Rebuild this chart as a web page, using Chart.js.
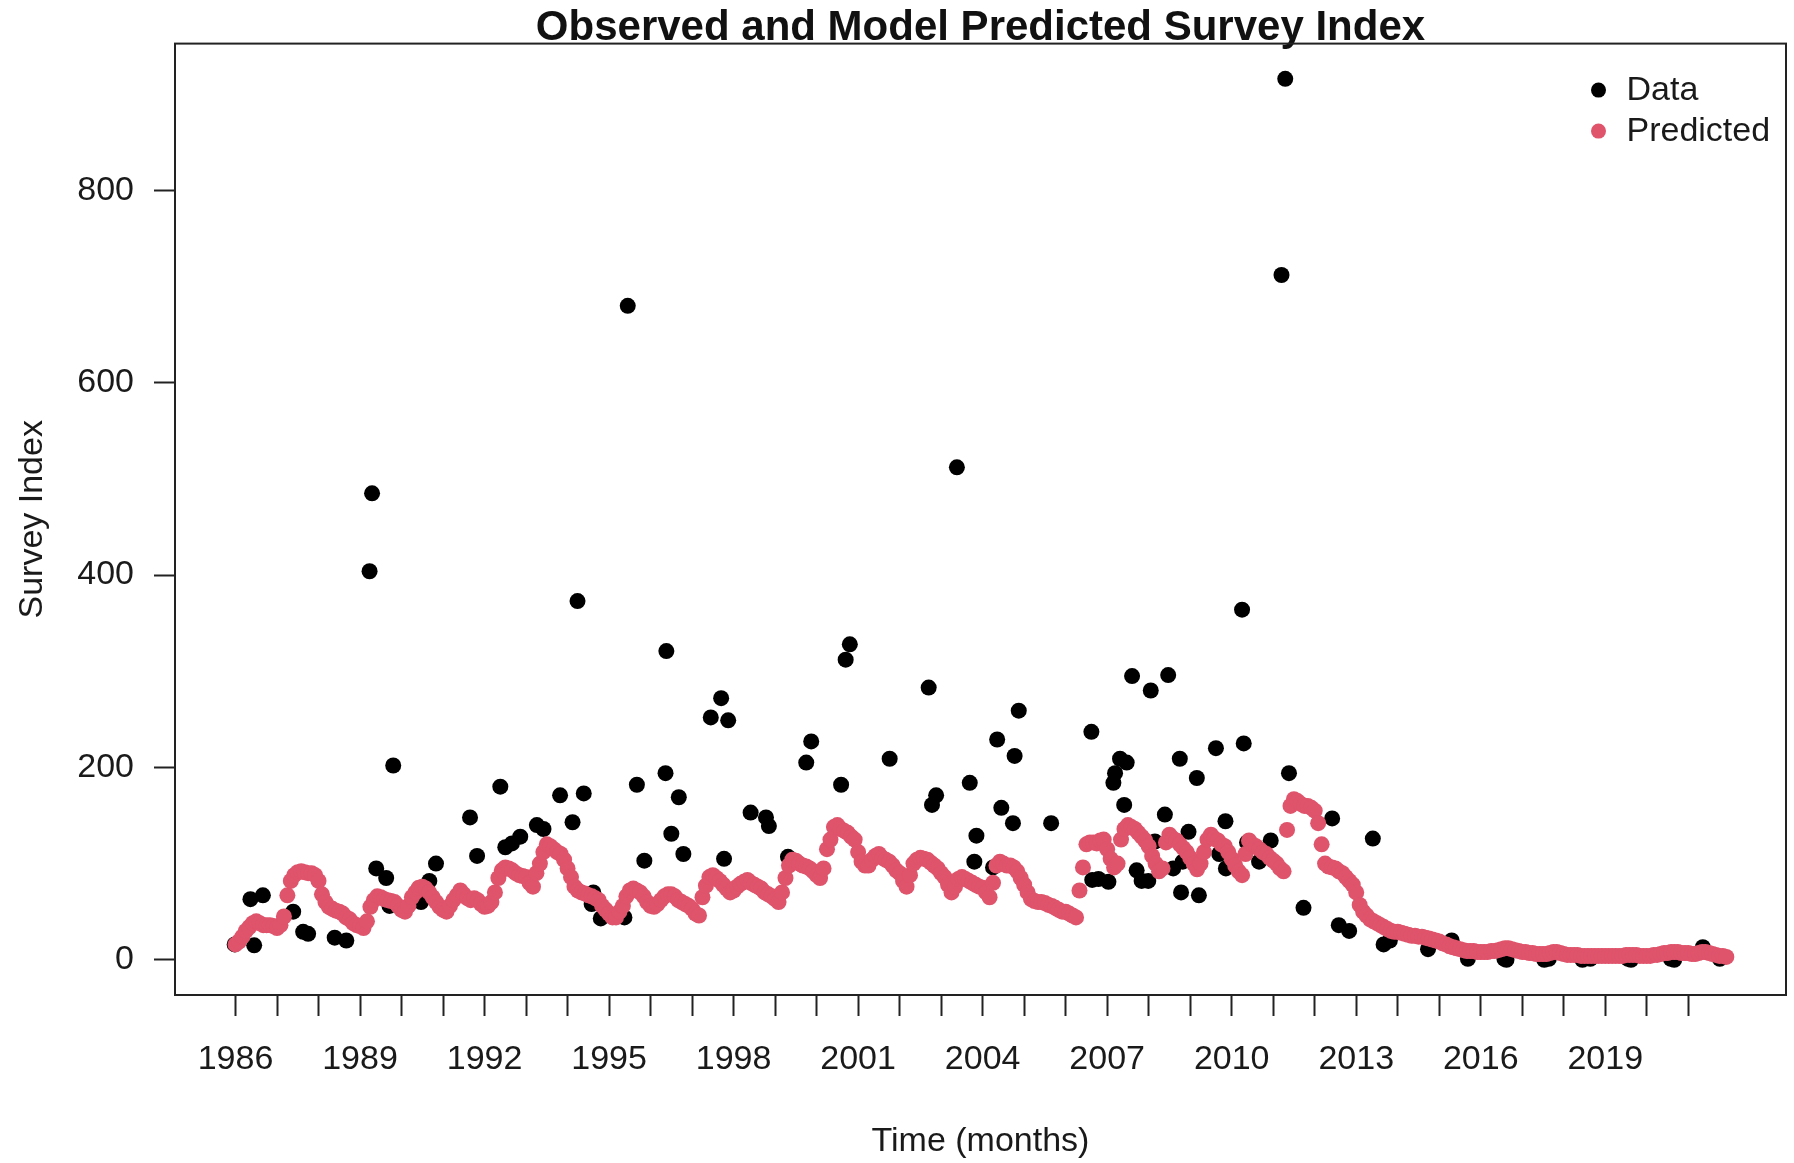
<!DOCTYPE html>
<html>
<head>
<meta charset="utf-8">
<script src="https://cdn.jsdelivr.net/npm/chart.js@4.4.1/dist/chart.umd.min.js"></script>
<style>
html,body{margin:0;padding:0;background:#ffffff;}
canvas{display:block;}
</style>
</head>
<body>
<canvas id="c" width="1794" height="1163"></canvas>
<script>
// ---------------- data ----------------
const titleText = "Observed and Model Predicted Survey Index";
const xAxisLabel = "Time (months)";
const yAxisLabel = "Survey Index";
const seriesNames = ["Data", "Predicted"];

// model prediction: one value per month, starting January 1986
const predictedStartYear = 1986;
const predictedValues = [
  16,19,24,30,34,38,40,38,36,36,36,35,        // 1986
  33,36,45,67,82,88,91,92,91,90,90,88,        // 1987
  82,68,60,55,53,51,50,48,44,42,38,36,        // 1988
  35,33,40,55,62,66,65,63,62,61,60,56,        // 1989
  52,50,56,65,70,75,76,74,70,65,60,55,        // 1990
  52,50,56,62,67,72,68,64,62,64,62,58,        // 1991
  55,56,60,70,85,93,96,95,93,90,88,87,        // 1992
  86,80,76,90,100,112,120,118,115,112,110,104,// 1993
  95,86,76,72,70,69,67,66,64,62,56,52,        // 1994
  48,44,44,50,56,66,72,74,72,70,66,60,        // 1995
  56,55,58,62,66,68,68,66,62,60,58,56,        // 1996
  53,48,46,65,77,86,88,85,82,78,74,70,        // 1997
  72,76,79,81,83,80,78,76,74,70,68,66,        // 1998
  63,60,70,85,98,104,103,100,98,97,95,92,     // 1999
  88,85,95,115,125,138,140,136,134,132,128,125, // 2000
  112,102,98,98,104,108,110,106,104,102,98,93,  // 2001
  90,82,76,88,100,104,106,105,104,101,98,95,    // 2002
  90,86,78,70,76,84,86,84,82,80,78,76,          // 2003
  75,70,65,80,98,102,100,98,98,96,92,85,        // 2004
  78,70,63,61,60,60,59,57,56,54,52,50,          // 2005
  50,48,46,44,72,96,120,122,122,121,124,125,    // 2006
  115,105,96,100,125,136,140,138,136,132,128,124, // 2007
  118,108,100,92,95,122,130,126,124,120,116,112,  // 2008
  106,100,94,100,112,125,130,126,124,120,118,112, // 2009
  105,98,92,88,110,124,120,118,115,112,110,106,   // 2010
  103,100,95,92,135,160,167,165,162,160,160,158,  // 2011
  155,142,120,100,97,96,95,92,90,86,82,78,        // 2012
  70,57,50,46,42,40,38,36,34,32,30,29,            // 2013
  29,28,27,26,25,25,24,24,23,22,21,20,            // 2014
  19,17,16,14,13,12,11,10,9,9,9,8,                // 2015
  8,8,8,9,9,10,11,12,12,11,10,9,                  // 2016
  8,8,7,7,6,6,6,6,7,8,8,7,                        // 2017
  6,5,5,5,5,4,4,4,4,4,4,4,                        // 2018
  4,4,4,4,4,4,5,5,5,5,4,4,                        // 2019
  4,4,5,5,6,7,7,8,8,8,7,7,                        // 2020
  7,6,6,7,8,8,7,6,5,4,4,3                         // 2021
];

// observed survey index (time in decimal years)
const dataTimes = [
  1985.98,1986.36,1986.45,1986.66,1987.39,1987.63,1987.75,1988.39,1988.67,
  1989.23,1989.29,1989.39,1989.63,1989.71,1989.80,1990.47,1990.67,1990.83,
  1991.65,1991.82,1992.38,1992.50,1992.66,1992.86,1993.26,1993.42,1993.82,
  1994.12,1994.24,1994.39,1994.58,1994.62,1994.80,1995.37,1995.45,1995.67,
  1995.85,1996.36,1996.38,1996.50,1996.68,1996.79,1997.45,1997.70,1997.77,
  1997.87,1998.41,1998.78,1998.85,1999.31,1999.75,1999.87,2000.59,2000.70,
  2000.80,2001.76,2002.70,2002.78,2002.88,2003.38,2003.69,2003.80,2003.85,
  2004.25,2004.35,2004.45,2004.73,2004.77,2004.87,2005.65,2006.62,2006.64,
  2006.79,2007.03,2007.15,2007.19,2007.31,2007.41,2007.47,2007.60,2007.71,
  2007.83,2007.99,2008.05,2008.15,2008.39,2008.47,2008.59,2008.75,2008.78,
  2008.82,2008.96,2009.16,2009.21,2009.62,2009.70,2009.85,2009.86,2010.25,
  2010.29,2010.37,2010.66,2010.94,2011.20,2011.29,2011.38,2011.73,2012.42,
  2012.58,2012.83,2013.40,2013.66,2013.81,2014.73,2015.30,2015.69,2016.57,
  2016.62,2017.53,2017.64,2018.45,2018.64,2019.55,2019.62,2020.58,2020.66,
  2021.35,2021.76
];
const dataValues = [
  16,63,15,67,50,29,27,23,20,
  404,485,95,85,56,202,60,82,100,
  148,108,180,117,121,128,140,136,171,
  143,373,173,58,70,43,44,680,182,
  103,194,321,131,169,110,252,272,105,
  249,153,148,139,107,205,227,182,312,
  328,209,283,161,171,512,184,102,129,
  96,229,158,142,212,259,142,237,83,
  84,81,184,194,209,161,205,295,93,
  82,82,280,123,151,296,95,209,70,
  102,133,189,67,220,110,144,95,364,
  225,122,102,124,712,916,194,54,147,
  36,30,126,16,20,11,20,1,1,
  0,0,1,0,1,1,0,1,0,
  13,1
];

const xTickYears = [1986,1987,1988,1989,1990,1991,1992,1993,1994,1995,1996,1997,
  1998,1999,2000,2001,2002,2003,2004,2005,2006,2007,2008,2009,2010,2011,2012,2013,
  2014,2015,2016,2017,2018,2019,2020,2021];
const xLabelYears = [1986,1989,1992,1995,1998,2001,2004,2007,2010,2013,2016,2019];
const yTickValues = [0,200,400,600,800];

// ---------------- build ----------------
const predictedPoints = predictedValues.map((v, i) => ({ x: predictedStartYear + i / 12, y: v }));
const dataPoints = dataTimes.map((t, i) => ({ x: t, y: dataValues[i] }));

const allX = predictedPoints.map(p => p.x).concat(dataTimes);
const allY = predictedValues.concat(dataValues);
const xLo = Math.min(...allX), xHi = Math.max(...allX);
const yLo = Math.min(...allY), yHi = Math.max(...allY);
const xPad = (xHi - xLo) * 0.04, yPad = (yHi - yLo) * 0.04;

const FONT = '"Liberation Sans", Arial, Helvetica, sans-serif';
const TEXT = '#1a1a1a';
const PINK = '#DF536B';
Chart.defaults.font.family = FONT;
Chart.defaults.color = TEXT;

const frameAndLegend = {
  id: 'frameAndLegend',
  afterDraw(chart) {
    const { ctx, chartArea: a } = chart;
    ctx.save();
    ctx.strokeStyle = '#222';
    ctx.lineWidth = 2;
    ctx.strokeRect(a.left, a.top, a.right - a.left, a.bottom - a.top);
    ctx.font = '34px ' + FONT;
    ctx.textBaseline = 'middle';
    ctx.textAlign = 'left';
    const colors = ['#000000', PINK];
    seriesNames.forEach((name, i) => {
      const y = a.top + 46.5 + i * 41;
      ctx.beginPath();
      ctx.arc(a.right - 187.5, y, 7.5, 0, Math.PI * 2);
      ctx.fillStyle = colors[i];
      ctx.fill();
      ctx.fillStyle = TEXT;
      ctx.fillText(name, a.right - 159.5, y + 1);
    });
    ctx.restore();
  }
};

new Chart(document.getElementById('c'), {
  type: 'scatter',
  data: {
    datasets: [
      { label: seriesNames[0], data: dataPoints, order: 1,
        pointRadius: 8, pointBackgroundColor: '#000000', pointBorderWidth: 0, showLine: false },
      { label: seriesNames[1], data: predictedPoints, order: 0,
        pointRadius: 8, pointBackgroundColor: PINK, pointBorderWidth: 0, showLine: false }
    ]
  },
  options: {
    responsive: false,
    animation: false,
    devicePixelRatio: 1,
    events: [],
    layout: { padding: { left: 0, right: 4, top: 0, bottom: 0 } },
    plugins: {
      legend: { display: false },
      tooltip: { enabled: false },
      title: {
        display: true, text: titleText, fullSize: false, color: '#111',
        font: { size: 42, weight: 'bold', lineHeight: 0.7 },
        padding: { top: 14.2, bottom: 0 }
      }
    },
    scales: {
      x: {
        type: 'linear', min: xLo - xPad, max: xHi + xPad,
        afterFit(s) { s.height = 168; },
        afterBuildTicks(s) { s.ticks = xTickYears.map(v => ({ value: v })); },
        ticks: {
          autoSkip: false, maxRotation: 0, minRotation: 0, padding: 23, color: TEXT,
          font: { size: 34 },
          callback: v => xLabelYears.includes(v) ? String(v) : ''
        },
        grid: { drawOnChartArea: false, drawTicks: true, tickLength: 21, tickWidth: 2, tickColor: '#222' },
        border: { display: false },
        title: { display: true, text: xAxisLabel, color: TEXT, font: { size: 34 }, padding: { top: 0, bottom: 1 } }
      },
      y: {
        type: 'linear', min: yLo - yPad, max: yHi + yPad,
        afterFit(s) { s.width = 175; },
        afterBuildTicks(s) { s.ticks = yTickValues.map(v => ({ value: v })); },
        ticks: { padding: 20, color: TEXT, font: { size: 34 }, callback: v => String(v) },
        grid: { drawOnChartArea: false, drawTicks: true, tickLength: 21, tickWidth: 2, tickColor: '#222' },
        border: { display: false },
        title: { display: true, text: yAxisLabel, color: TEXT, font: { size: 34 }, padding: { top: 12, bottom: 0 } }
      }
    }
  },
  plugins: [frameAndLegend]
});
</script>
</body>
</html>
